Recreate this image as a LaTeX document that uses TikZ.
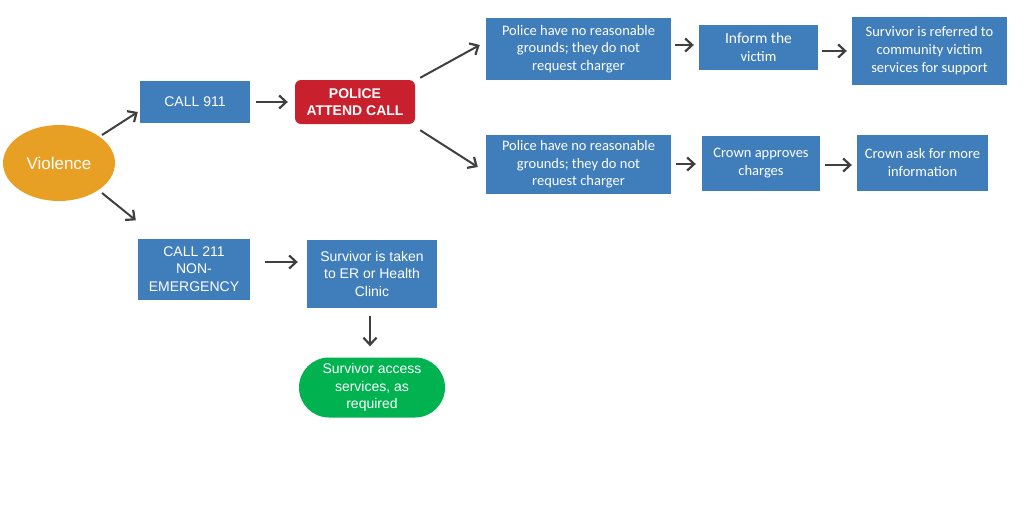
\documentclass[tikz,border=0pt]{standalone}
\usepackage{fontspec}
\setmainfont{Liberation Sans}
\newfontfamily\calf{Carlito}
\usetikzlibrary{arrows.meta,shapes.geometric,calc}
\definecolor{boxblue}{RGB}{64,126,187}
\definecolor{polred}{RGB}{200,32,44}
\definecolor{vorange}{RGB}{232,160,36}
\definecolor{sgreen}{RGB}{0,178,80}
\definecolor{arrgray}{RGB}{64,64,64}
\begin{document}
\begin{tikzpicture}[x=1pt,y=-1pt,
  abox/.style={fill=boxblue,text=white,align=center,inner sep=0pt,
    font=\fontsize{14}{17.5}\selectfont},
  cbox/.style={fill=boxblue,text=white,align=center,inner sep=0pt,
    font=\calf\fontsize{14.5}{17.7}\selectfont},
  conn/.style={draw=arrgray,line width=2pt,-{Straight Barb[length=7pt,width=13pt,line width=2.2pt]}}]
\useasboundingbox (0,0) rectangle (1024,512);
\node[ellipse,fill=vorange,text=white,minimum width=112pt,minimum height=76pt,inner sep=0pt,
  font=\fontsize{17}{19}\selectfont] (viol) at (59,163) {Violence};
\node[abox,minimum width=110pt,minimum height=42pt] (c911) at (195,102) {CALL 911};
\node[fill=polred,rounded corners=6pt,text=white,align=center,inner sep=0pt,
  minimum width=120pt,minimum height=44pt,font=\bfseries\fontsize{14}{17}\selectfont] (police) at (355,102) {POLICE\\ATTEND CALL};
\node[cbox,minimum width=185pt,minimum height=62pt] (t1) at (578.5,49) {Police have no reasonable\\grounds; they do not\\request charger};
\node[cbox,minimum width=119pt,minimum height=45pt] (t2) at (758.5,47) {\fontsize{15.5}{17.5}\selectfont Inform the\\victim};
\node[cbox,minimum width=155pt,minimum height=68pt] (t3) at (929.5,50.5) {Survivor is referred to\\community victim\\services for support};
\node[cbox,minimum width=185pt,minimum height=59pt] (b1) at (578.5,164.5) {Police have no reasonable\\grounds; they do not\\request charger};
\node[cbox,minimum width=118pt,minimum height=55pt] (b2) at (761,163) {Crown approves\\charges};
\node[cbox,minimum width=131pt,minimum height=56pt] (b3) at (922.5,162.5) {Crown ask for more\\information};
\node[abox,minimum width=112pt,minimum height=61pt] (c211) at (194,269) {CALL 211\\NON-\\EMERGENCY};
\node[abox,minimum width=130pt,minimum height=68pt] (er) at (372,273.5) {Survivor is taken\\to ER or Health\\Clinic};
\node[fill=sgreen,rounded corners=30pt,text=white,align=center,inner sep=0pt,
  minimum width=146pt,minimum height=60pt,font=\fontsize{14}{17.5}\selectfont] (acc) at (372,387.5) {Survivor access\\services, as\\required};
\draw[conn] ($(viol)+(43,-28)$) -- ($(c911.west)+(-2,10)$);
\draw[conn] ($(viol)+(43,30)$) -- ($(c211.north west)+(-2,-18)$);
\draw[conn] ($(c911.east)+(6,0)$) -- ($(police.west)+(-7,0)$);
\draw[conn] ($(police.north east)+(5,-2)$) -- ($(t1.west)+(-6,-4)$);
\draw[conn] ($(police.south east)+(5,6)$) -- ($(b1.west)+(-8,2.5)$);
\draw[conn] ($(t1.east)+(4,-4)$) -- ($(t2.west)+(-5,-2)$);
\draw[conn] ($(t2.east)+(4,4)$) -- ($(t3.west)+(-5,0.5)$);
\draw[conn] ($(b1.east)+(5,-0.5)$) -- ($(b2.west)+(-6,1)$);
\draw[conn] ($(b2.east)+(5,2)$) -- ($(b3.west)+(-5,2.5)$);
\draw[conn] ($(c211.east)+(15,-7)$) -- ($(er.west)+(-9,-11.5)$);
\draw[conn] ($(er.south)+(-2,8)$) -- ($(acc.north)+(-2,-11)$);
\end{tikzpicture}
\end{document}
